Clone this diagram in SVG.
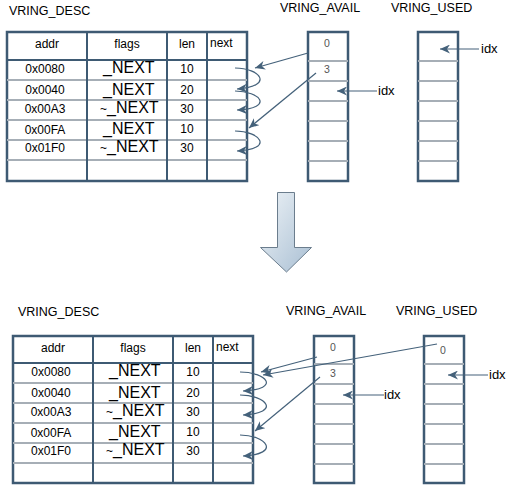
<svg xmlns="http://www.w3.org/2000/svg" width="520" height="489" viewBox="0 0 520 489">
<style>
text{font-family:"Liberation Sans",Arial,sans-serif;fill:#000}
.t{font-size:12.5px}
.s{font-size:12px}
.h{font-size:12px;text-anchor:middle}
.f{font-size:16px}
.n{font-size:12px;text-anchor:middle}
.v{font-size:10.5px;fill:#555;text-anchor:middle}
.i{font-size:13px}
.outer{fill:#fff;stroke:#3e5a73;stroke-width:2.5}
.col{stroke:#3e5a73;stroke-width:2}
.row{stroke:#a6aeb6;stroke-width:2}
.c{fill:none;stroke:#44617a;stroke-width:1.2}
</style>
<defs>
<marker id="ah" markerUnits="userSpaceOnUse" markerWidth="11" markerHeight="9" refX="10" refY="4.5" orient="auto">
<path d="M0,0 L10,4.5 L0,9 L3,4.5 z" fill="#44617a"/>
</marker>
<linearGradient id="g" x1="0" y1="0" x2="1" y2="1">
<stop offset="0" stop-color="#eef3f7"/>
<stop offset="1" stop-color="#a9bfd3"/>
</linearGradient>
</defs>

<!-- titles -->
<g id="titles">
<text class="t" x="9" y="15">VRING_DESC</text>
<text class="t" x="280" y="12">VRING_AVAIL</text>
<text class="t" x="391" y="12">VRING_USED</text>
<text class="t" x="18" y="316">VRING_DESC</text>
<text class="t" x="286" y="315">VRING_AVAIL</text>
<text class="t" x="396" y="315">VRING_USED</text>
</g>

<!-- top desc table -->
<g id="desc-top">
<rect class="outer" x="7" y="32" width="240" height="149"/>
<line class="row" x1="7" y1="80" x2="247" y2="80"/>
<line class="row" x1="7" y1="100" x2="247" y2="100"/>
<line class="row" x1="7" y1="120" x2="247" y2="120"/>
<line class="row" x1="7" y1="140" x2="247" y2="140"/>
<line class="row" x1="7" y1="160" x2="247" y2="160"/>
<line class="col" x1="7" y1="60" x2="247" y2="60"/>
<line class="col" x1="87" y1="32" x2="87" y2="181"/>
<line class="col" x1="167" y1="32" x2="167" y2="181"/>
<line class="col" x1="207" y1="32" x2="207" y2="181"/>
<text class="h" x="47" y="48">addr</text>
<text class="h" x="127" y="48">flags</text>
<text class="h" x="187" y="48">len</text>
<text class="s" x="210" y="47">next</text>
<text class="h" x="45" y="72.5">0x0080</text>
<text class="h" x="45" y="94">0x0040</text>
<text class="h" x="45" y="112.5">0x00A3</text>
<text class="h" x="45" y="134">0x00FA</text>
<text class="h" x="45" y="151.5">0x01F0</text>
<text class="f" x="103" y="73">_NEXT</text>
<text class="f" x="103" y="95">_NEXT</text>
<text class="f" x="100" y="113"><tspan font-size="12">~</tspan>_NEXT</text>
<text class="f" x="103" y="134">_NEXT</text>
<text class="f" x="100" y="152"><tspan font-size="12">~</tspan>_NEXT</text>
<text class="n" x="187" y="73">10</text>
<text class="n" x="187" y="94">20</text>
<text class="n" x="187" y="113">30</text>
<text class="n" x="187" y="133">10</text>
<text class="n" x="187" y="152">30</text>
</g>

<g id="avail-top">
<rect class="outer" x="308" y="32" width="40" height="149"/>
<line class="row" x1="308" y1="61" x2="348" y2="61"/>
<line class="row" x1="308" y1="81" x2="348" y2="81"/>
<line class="row" x1="308" y1="101" x2="348" y2="101"/>
<line class="row" x1="308" y1="121" x2="348" y2="121"/>
<line class="row" x1="308" y1="141" x2="348" y2="141"/>
<line class="row" x1="308" y1="161" x2="348" y2="161"/>
<text class="v" x="327" y="47">0</text>
<text class="v" x="327" y="73">3</text>
</g>

<g id="used-top">
<rect class="outer" x="418" y="32" width="40" height="149"/>
<line class="row" x1="418" y1="61" x2="458" y2="61"/>
<line class="row" x1="418" y1="81" x2="458" y2="81"/>
<line class="row" x1="418" y1="101" x2="458" y2="101"/>
<line class="row" x1="418" y1="121" x2="458" y2="121"/>
<line class="row" x1="418" y1="141" x2="458" y2="141"/>
<line class="row" x1="418" y1="161" x2="458" y2="161"/>
</g>

<g id="idx-labels-top">
<text class="i" x="378" y="95">idx</text>
<text class="i" x="481" y="53">idx</text>
</g>

<!-- big arrow -->
<g id="transition-arrow">
<polygon points="277.5,192.5 294.5,192.5 294.5,247.5 311.5,247.5 286.5,272 260.5,247.5 277.5,247.5" fill="url(#g)" stroke="#6b7d8d" stroke-width="1"/>
</g>

<!-- bottom desc table -->
<g id="desc-bottom">
<rect class="outer" x="13" y="336" width="240" height="147"/>
<line class="row" x1="13" y1="383" x2="253" y2="383"/>
<line class="row" x1="13" y1="403" x2="253" y2="403"/>
<line class="row" x1="13" y1="423" x2="253" y2="423"/>
<line class="row" x1="13" y1="443" x2="253" y2="443"/>
<line class="row" x1="13" y1="463" x2="253" y2="463"/>
<line class="col" x1="13" y1="363" x2="253" y2="363"/>
<line class="col" x1="93" y1="336" x2="93" y2="483"/>
<line class="col" x1="173" y1="336" x2="173" y2="483"/>
<line class="col" x1="213" y1="336" x2="213" y2="483"/>
<text class="h" x="53" y="352">addr</text>
<text class="h" x="133" y="352">flags</text>
<text class="h" x="193" y="352">len</text>
<text class="s" x="216" y="351">next</text>
<text class="h" x="51" y="375.5">0x0080</text>
<text class="h" x="51" y="397">0x0040</text>
<text class="h" x="51" y="415.5">0x00A3</text>
<text class="h" x="51" y="437">0x00FA</text>
<text class="h" x="51" y="454.5">0x01F0</text>
<text class="f" x="109" y="376">_NEXT</text>
<text class="f" x="109" y="398">_NEXT</text>
<text class="f" x="106" y="416"><tspan font-size="12">~</tspan>_NEXT</text>
<text class="f" x="109" y="437">_NEXT</text>
<text class="f" x="106" y="455"><tspan font-size="12">~</tspan>_NEXT</text>
<text class="n" x="193" y="376">10</text>
<text class="n" x="193" y="397">20</text>
<text class="n" x="193" y="416">30</text>
<text class="n" x="193" y="436">10</text>
<text class="n" x="193" y="455">30</text>
</g>

<g id="avail-bottom">
<rect class="outer" x="314" y="336" width="40" height="147"/>
<line class="row" x1="314" y1="364" x2="354" y2="364"/>
<line class="row" x1="314" y1="384" x2="354" y2="384"/>
<line class="row" x1="314" y1="404" x2="354" y2="404"/>
<line class="row" x1="314" y1="424" x2="354" y2="424"/>
<line class="row" x1="314" y1="444" x2="354" y2="444"/>
<line class="row" x1="314" y1="464" x2="354" y2="464"/>
<text class="v" x="333" y="351">0</text>
<text class="v" x="333" y="377">3</text>
</g>

<g id="used-bottom">
<rect class="outer" x="424" y="336" width="40" height="147"/>
<line class="row" x1="424" y1="364" x2="464" y2="364"/>
<line class="row" x1="424" y1="384" x2="464" y2="384"/>
<line class="row" x1="424" y1="404" x2="464" y2="404"/>
<line class="row" x1="424" y1="424" x2="464" y2="424"/>
<line class="row" x1="424" y1="444" x2="464" y2="444"/>
<line class="row" x1="424" y1="464" x2="464" y2="464"/>
<text class="v" x="443" y="354">0</text>
</g>

<g id="idx-labels-bottom">
<text class="i" x="384" y="399">idx</text>
<text class="i" x="489" y="379">idx</text>
</g>

<!-- connectors -->
<g id="connectors">
<path class="c" d="M235,68 C260,68 275,86 237,89" marker-end="url(#ah)"/>
<path class="c" d="M235,91 C260,91 275,108 237,110" marker-end="url(#ah)"/>
<path class="c" d="M235,131 C260,131 275,149 237,151" marker-end="url(#ah)"/>
<line class="c" x1="308" y1="53" x2="255" y2="68" marker-end="url(#ah)"/>
<line class="c" x1="316" y1="73" x2="249" y2="128" marker-end="url(#ah)"/>
<line class="c" x1="377" y1="91" x2="337" y2="91" stroke-width="1.5" marker-end="url(#ah)"/>
<line class="c" x1="479" y1="49" x2="440" y2="49" stroke-width="1.5" marker-end="url(#ah)"/>

<path class="c" d="M240,372 C266,372 282,389 243,391" marker-end="url(#ah)"/>
<path class="c" d="M240,395 C266,395 282,413 243,415" marker-end="url(#ah)"/>
<path class="c" d="M240,435 C266,435 282,454 243,456" marker-end="url(#ah)"/>
<line class="c" x1="317" y1="357" x2="261" y2="372" marker-end="url(#ah)"/>
<line class="c" x1="437" y1="344" x2="263" y2="375" marker-end="url(#ah)"/>
<line class="c" x1="320" y1="377" x2="255" y2="431" marker-end="url(#ah)"/>
<line class="c" x1="384" y1="395" x2="343" y2="395" stroke-width="1.5" marker-end="url(#ah)"/>
<line class="c" x1="488" y1="375" x2="448" y2="375" stroke-width="1.5" marker-end="url(#ah)"/>
</g>
</svg>
